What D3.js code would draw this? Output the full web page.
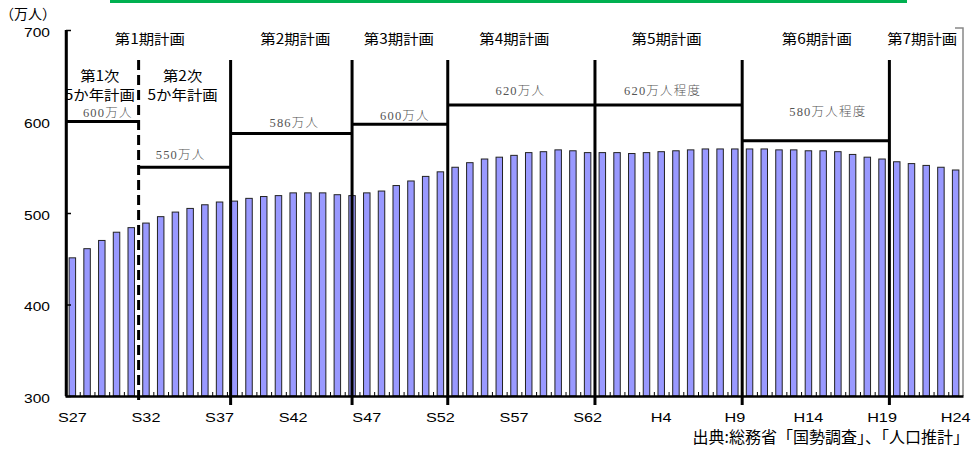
<!DOCTYPE html>
<html>
<head>
<meta charset="utf-8">
<script src="https://cdn.jsdelivr.net/npm/d3@7/dist/d3.min.js"></script>
<style>
  body { margin: 0; background: #fff; }
  svg { display: block; }
</style>
</head>
<body>
<div id="chart"></div>
<script>
// 年次（S27=1952 ～ H24=2012）
const years = [
  "S27","S28","S29","S30","S31","S32","S33","S34","S35","S36",
  "S37","S38","S39","S40","S41","S42","S43","S44","S45","S46",
  "S47","S48","S49","S50","S51","S52","S53","S54","S55","S56",
  "S57","S58","S59","S60","S61","S62","S63","H1","H2","H3",
  "H4","H5","H6","H7","H8","H9","H10","H11","H12","H13",
  "H14","H15","H16","H17","H18","H19","H20","H21","H22","H23","H24"
];
// 人口（万人）
const population = [
  451, 461, 470, 479, 484, 489, 496, 501, 505, 509,
  512, 513, 516, 518, 519, 522, 522, 522, 520, 519,
  522, 524, 530, 535, 540, 545, 550, 555, 559, 561,
  563, 566, 567, 569, 568, 566, 566, 566, 565, 566,
  567, 568, 569, 570, 570, 570, 570, 570, 569, 569,
  568, 568, 567, 564, 561, 559, 556, 554, 552, 550, 547
];
const xTickLabels = ["S27","S32","S37","S42","S47","S52","S57","S62","H4","H9","H14","H19","H24"];
const yTicks = [300, 400, 500, 600, 700];

// 計画期間（西暦、区切り位置）
const planNames = ["第1期計画","第2期計画","第3期計画","第4期計画","第5期計画","第6期計画","第7期計画"];
const planStarts = [1952, 1963.25, 1971.5, 1978, 1988, 1998, 2008];
const planEnd = 2013;
const subPlanNames = [["第1次","5か年計画"], ["第2次","5か年計画"]];
const subPlanStarts = [1952, 1957];
const subPlanEnds = [1957, 1963.25];

// 目標人口
const targetLabels = ["600万人","550万人","586万人","600万人","620万人","620万人程度","580万人程度"];
const targetValues = [600, 550, 587, 597, 618, 618, 579];
const targetStarts = [1952, 1957, 1963.25, 1971.5, 1978, 1988, 1998];
const targetEnds   = [1957, 1963.25, 1971.5, 1978, 1988, 1998, 2008];

document.addEventListener("DOMContentLoaded", function () {
  const width = 971, height = 454;
  const left = 65, right = 963, top = 30, bottom = 396;

  const svg = d3.select("#chart").append("svg")
    .attr("width", width)
    .attr("height", height);

  const x = d3.scaleBand().domain(years).range([left, right])
    .paddingInner(0.56).paddingOuter(0.28);
  const yearX = d3.scaleLinear().domain([1952, planEnd]).range([left, right]);
  const y = d3.scaleLinear().domain([300, 700]).range([bottom, top]);

  const sans = "'Liberation Sans', Arial, sans-serif";
  const cjk = "'Noto Sans CJK JP', 'Noto Sans', sans-serif";
  const serif = "'Liberation Serif', 'DejaVu Serif', 'Noto Sans CJK JP', serif";

  // green frame edge at the top
  svg.append("rect").attr("x", 110).attr("y", 0).attr("width", 797).attr("height", 3)
    .style("fill", "#00b050");

  // right frame line
  svg.append("path").attr("d", `M${right - 8},28H${right}V${bottom}`)
    .style("fill", "none").style("stroke", "#888").style("stroke-width", 1.5);

  // bars
  svg.append("g").selectAll("rect")
    .data(population)
    .enter().append("rect")
    .attr("x", (d, i) => x(years[i]))
    .attr("y", d => y(d))
    .attr("width", x.bandwidth())
    .attr("height", d => y(300) - y(d))
    .style("fill", "#9999ff")
    .style("stroke", "#222")
    .style("stroke-width", 1);

  // minor ticks between years
  const minor = svg.append("g").attr("transform", `translate(0,${bottom})`)
    .call(d3.axisBottom(yearX).tickValues(d3.range(1953, planEnd)).tickSize(-4).tickSizeOuter(0).tickFormat(""));
  minor.select(".domain").remove();
  minor.selectAll("line").style("stroke", "#000").style("stroke-width", 1);

  // x axis
  const xAxis = svg.append("g").attr("transform", `translate(0,${bottom})`)
    .call(d3.axisBottom(x).tickValues(xTickLabels).tickSize(0).tickSizeOuter(0).tickPadding(17));
  xAxis.select(".domain").style("stroke", "#000").style("stroke-width", 2.5);
  xAxis.selectAll("text")
    .style("font-family", sans).style("font-size", "12.5px").style("fill", "#000")
    .attr("transform", "scale(1.3,1)");

  // y axis
  const yAxis = svg.append("g").attr("transform", `translate(${left + 1},0)`)
    .call(d3.axisLeft(y).tickValues(yTicks).tickSize(-5).tickSizeOuter(0).tickPadding(16));
  yAxis.select(".domain").style("stroke", "#000").style("stroke-width", 2.5);
  yAxis.selectAll("line").style("stroke", "#000").style("stroke-width", 1.5);
  yAxis.selectAll("text")
    .style("font-family", sans).style("font-size", "13.5px").style("fill", "#000")
    .attr("x", 0).attr("transform", "translate(-16,2) scale(1.15,1)");

  svg.append("text").attr("x", 0).attr("y", 19)
    .style("font-family", cjk).style("font-size", "14px")
    .text("（万人）");

  // plan dividers
  svg.append("g").selectAll("line")
    .data(planStarts.slice(1))
    .enter().append("line")
    .attr("x1", d => yearX(d)).attr("x2", d => yearX(d))
    .attr("y1", 60).attr("y2", 405)
    .style("stroke", "#000").style("stroke-width", 3);

  svg.append("line")
    .attr("x1", yearX(subPlanStarts[1])).attr("x2", yearX(subPlanStarts[1]))
    .attr("y1", 60).attr("y2", 401)
    .style("stroke", "#000").style("stroke-width", 3)
    .style("stroke-dasharray", "10,5");

  // target lines
  svg.append("g").selectAll("line")
    .data(targetValues)
    .enter().append("line")
    .attr("x1", (d, i) => yearX(targetStarts[i]))
    .attr("x2", (d, i) => yearX(targetEnds[i]))
    .attr("y1", d => y(d)).attr("y2", d => y(d))
    .style("stroke", "#000").style("stroke-width", 3);

  // target labels (nudged like the original)
  const labelDx = [6, -4, 3, 5, -1, -6, 12];
  const labelDy = [-4.5, -8.5, -6.5, -4.5, -10.5, -10.5, -24.5];
  svg.append("g").selectAll("text")
    .data(targetLabels)
    .enter().append("text")
    .attr("x", (d, i) => (yearX(targetStarts[i]) + yearX(targetEnds[i])) / 2 + labelDx[i])
    .attr("y", (d, i) => y(targetValues[i]) + labelDy[i])
    .attr("text-anchor", "middle")
    .style("font-family", serif).style("font-size", "12.5px").style("font-weight", "300")
    .style("letter-spacing", "1.2px").style("fill", "#555")
    .text(d => d);

  // plan titles
  const titleDx = [2, 4, -1, -7, -2, 1, -4];
  svg.append("g").selectAll("text")
    .data(planNames)
    .enter().append("text")
    .attr("transform", (d, i) => {
      const end = i + 1 < planStarts.length ? planStarts[i + 1] : planEnd;
      const cx = (yearX(planStarts[i]) + yearX(end)) / 2 + titleDx[i];
      return `translate(${cx},44) scale(1.1,1)`;
    })
    .attr("text-anchor", "middle")
    .style("font-family", cjk).style("font-size", "14px").style("fill", "#000")
    .text(d => d);

  // 5-year sub plans
  const sub = svg.append("g").selectAll("g")
    .data(subPlanNames)
    .enter().append("g")
    .attr("transform", (d, i) => `translate(${(yearX(subPlanStarts[i]) + yearX(subPlanEnds[i])) / 2 - 2},0)`);
  sub.selectAll("text")
    .data(d => d)
    .enter().append("text")
    .attr("transform", (d, j) => `translate(0,${j === 0 ? 81 : 100}) scale(1.1,1)`)
    .attr("text-anchor", "middle")
    .style("font-family", cjk).style("font-size", "14px").style("fill", "#000")
    .text(d => d);

  // redraw left axis line on top so text sits behind it
  svg.append("line").attr("x1", left + 1).attr("x2", left + 1).attr("y1", top).attr("y2", bottom)
    .style("stroke", "#000").style("stroke-width", 2.5);

  // source
  svg.append("text").attr("x", 969).attr("y", 443)
    .attr("text-anchor", "end")
    .style("font-family", cjk).style("font-size", "16px").style("fill", "#000")
    .text("出典:総務省「国勢調査」、「人口推計」");
});
</script>
</body>
</html>
